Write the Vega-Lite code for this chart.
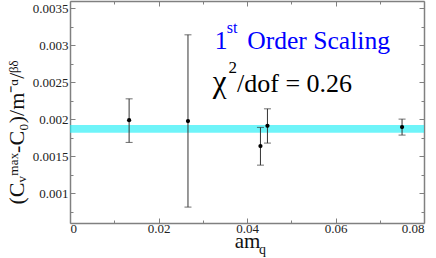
{
  "$schema": "https://vega.github.io/schema/vega-lite/v6.json",
  "width": 354,
  "height": 222,
  "autosize": {"type": "none"},
  "padding": {"left": 70, "top": 1, "right": 12, "bottom": 35},
  "background": "white",
  "config": {
    "view": {"stroke": null},
    "text": {"font": "Liberation Serif"},
    "axis": {
      "labelFont": "Liberation Serif",
      "titleFont": "Liberation Serif",
      "labelFontSize": 13,
      "labelColor": "#222",
      "titleColor": "#111",
      "titleFontWeight": "normal",
      "domainColor": "#808080",
      "tickColor": "#808080",
      "domainWidth": 1.5,
      "tickWidth": 1,
      "grid": false
    }
  },
  "datasets": {
    "pts": [
      {"x": 0.01336, "y": 0.00199, "lo": 0.001689, "hi": 0.002278},
      {"x": 0.02666, "y": 0.001977, "lo": 0.000815, "hi": 0.003143},
      {"x": 0.04304, "y": 0.001639, "lo": 0.001382, "hi": 0.001892},
      {"x": 0.04462, "y": 0.001914, "lo": 0.00168, "hi": 0.002143},
      {"x": 0.07504, "y": 0.001896, "lo": 0.001788, "hi": 0.002004}
    ],
    "band": [{"x0": 0, "x1": 0.08, "y0": 0.001819, "y1": 0.001923}]
  },
  "resolve": {"axis": {"x": "independent", "y": "independent"}},
  "layer": [
    {
      "data": {"name": "band"},
      "mark": {"type": "rect", "color": "#22eef6", "opacity": 0.65},
      "encoding": {
        "x": {"field": "x0", "type": "quantitative",
          "scale": {"domain": [0, 0.08], "nice": false, "zero": false},
          "axis": {"orient": "bottom", "values": [0, 0.02, 0.04, 0.06, 0.08], "format": "~g", "tickSize": -5, "labelPadding": 4, "title": "am", "titleFontSize": 21, "titleBaseline": "alphabetic", "titleX": 177, "titleY": 24}},
        "x2": {"field": "x1"},
        "y": {"field": "y0", "type": "quantitative",
          "scale": {"domain": [0.0006, 0.0036], "nice": false, "zero": false},
          "axis": {"orient": "left", "values": [0.001, 0.0015, 0.002, 0.0025, 0.003, 0.0035], "format": "~g", "tickSize": -5, "labelPadding": 7, "title": "(Cᵥᵐᵃˣ-C₀)/m⁻ᵅ/ᵝᵟ", "titleFontSize": 22, "titlePadding": 4, "titleY": 131}},
        "y2": {"field": "y1"}
      }
    },
    {
      "data": {"name": "pts"},
      "mark": {"type": "rule", "color": "#333", "strokeWidth": 1},
      "encoding": {
        "x": {"field": "x", "type": "quantitative",
          "axis": {"orient": "bottom", "values": [0.01, 0.03, 0.05, 0.07], "labels": false, "domain": false, "tickSize": -3, "title": "q", "titleFontSize": 14, "titleBaseline": "alphabetic", "titleX": 192, "titleY": 30}},
        "y": {"field": "lo", "type": "quantitative",
          "axis": {"orient": "left", "values": [0.00075, 0.00125, 0.00175, 0.00225, 0.00275, 0.00325], "labels": false, "domain": false, "tickSize": -3, "title": null}},
        "y2": {"field": "hi"}
      }
    },
    {
      "data": {"name": "pts"},
      "mark": {"type": "tick", "orient": "horizontal", "color": "#333", "size": 7, "thickness": 1},
      "encoding": {
        "x": {"field": "x", "type": "quantitative",
          "axis": {"orient": "top", "values": [0, 0.02, 0.04, 0.06, 0.08], "labels": false, "tickSize": -5, "title": null}},
        "y": {"field": "lo", "type": "quantitative",
          "axis": {"orient": "right", "values": [0.001, 0.0015, 0.002, 0.0025, 0.003, 0.0035], "labels": false, "tickSize": -5, "title": null}}
      }
    },
    {
      "data": {"name": "pts"},
      "mark": {"type": "tick", "orient": "horizontal", "color": "#333", "size": 7, "thickness": 1},
      "encoding": {
        "x": {"field": "x", "type": "quantitative",
          "axis": {"orient": "top", "values": [0.01, 0.03, 0.05, 0.07], "labels": false, "domain": false, "tickSize": -3, "title": null}},
        "y": {"field": "hi", "type": "quantitative",
          "axis": {"orient": "right", "values": [0.00075, 0.00125, 0.00175, 0.00225, 0.00275, 0.00325], "labels": false, "domain": false, "tickSize": -3, "title": null}}
      }
    },
    {
      "data": {"name": "pts"},
      "mark": {"type": "point", "filled": true, "color": "black", "size": 18, "opacity": 1},
      "encoding": {
        "x": {"field": "x", "type": "quantitative", "axis": null},
        "y": {"field": "y", "type": "quantitative", "axis": null}
      }
    },
    {
      "data": {"values": [
        {"t": "1", "x": 0.0327, "y": 0.002946},
        {"t": "Order Scaling", "x": 0.04004, "y": 0.002946}
      ]},
      "mark": {"type": "text", "align": "left", "baseline": "alphabetic", "fontSize": 25.6, "color": "#0000ff", "font": "Liberation Serif"},
      "encoding": {
        "x": {"field": "x", "type": "quantitative", "axis": null},
        "y": {"field": "y", "type": "quantitative", "axis": null},
        "text": {"field": "t"}
      }
    },
    {
      "data": {"values": [{"t": "st", "x": 0.03545, "y": 0.003162}]},
      "mark": {"type": "text", "align": "left", "baseline": "alphabetic", "fontSize": 16, "color": "#0000ff", "font": "Liberation Serif"},
      "encoding": {
        "x": {"field": "x", "type": "quantitative", "axis": null},
        "y": {"field": "y", "type": "quantitative", "axis": null},
        "text": {"field": "t"}
      }
    },
    {
      "data": {"values": [{"t": "χ", "x": 0.03228, "y": 0.002373}]},
      "mark": {"type": "text", "align": "left", "baseline": "alphabetic", "fontSize": 31, "color": "black", "font": "Liberation Serif"},
      "encoding": {
        "x": {"field": "x", "type": "quantitative", "axis": null},
        "y": {"field": "y", "type": "quantitative", "axis": null},
        "text": {"field": "t"}
      }
    },
    {
      "data": {"values": [{"t": "/dof = 0.26", "x": 0.03775, "y": 0.002373}]},
      "mark": {"type": "text", "align": "left", "baseline": "alphabetic", "fontSize": 26, "color": "black", "font": "Liberation Serif"},
      "encoding": {
        "x": {"field": "x", "type": "quantitative", "axis": null},
        "y": {"field": "y", "type": "quantitative", "axis": null},
        "text": {"field": "t"}
      }
    },
    {
      "data": {"values": [{"t": "2", "x": 0.0358, "y": 0.002622}]},
      "mark": {"type": "text", "align": "left", "baseline": "alphabetic", "fontSize": 17, "color": "black", "font": "Liberation Serif"},
      "encoding": {
        "x": {"field": "x", "type": "quantitative", "axis": null},
        "y": {"field": "y", "type": "quantitative", "axis": null},
        "text": {"field": "t"}
      }
    }
  ]
}
